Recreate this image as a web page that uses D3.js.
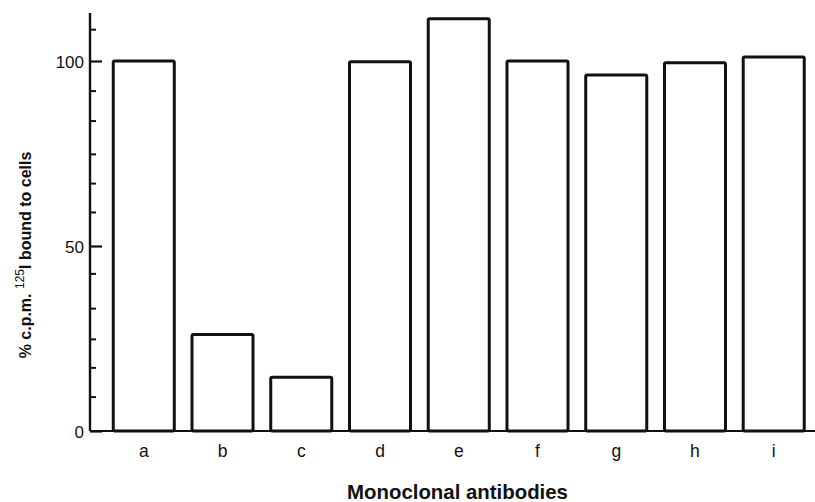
<!DOCTYPE html>
<html>
<head>
<meta charset="utf-8">
<script src="https://cdn.jsdelivr.net/npm/d3@7"></script>
<style>
  html, body { margin: 0; padding: 0; background: #fff; }
  svg { display: block; }
  text { font-family: "Liberation Sans", Arial, Helvetica, sans-serif; fill: #111; }
</style>
</head>
<body>
<svg id="chart" width="815" height="502"></svg>
<script>
// ---- data ----
const categories = ["a", "b", "c", "d", "e", "f", "g", "h", "i"];
const values = [100, 26.1, 14.5, 99.8, 111.4, 100, 96.2, 99.5, 101.1];
const majorTicks = [0, 50, 100];
const minorTicks = [9.3, 17.2, 24.9, 33.2, 42.6, 59.2, 67.0, 74.9, 83.9, 92.0, 108.6];
const yTitle = "% c.p.m.";
const yTitleSup = "125";
const yTitleRest = "I bound to cells";
const xTitle = "Monoclonal antibodies";

// ---- layout ----
const svg = d3.select("#chart");
const axisX = 90;
const y = d3.scaleLinear().domain([0, 113]).range([431, 12.9]);
const x = d3.scaleBand().domain(categories).range([104.4, 813.1])
  .paddingInner(0.225).paddingOuter(0.1125);

const ink = "#111";

// bars
svg.append("g").selectAll("rect").data(values).join("rect")
  .attr("x", (d, i) => x(categories[i]))
  .attr("y", d => y(d))
  .attr("width", x.bandwidth())
  .attr("height", d => y(0) - y(d))
  .attr("rx", 1.5)
  .attr("fill", "#fff")
  .attr("stroke", ink)
  .attr("stroke-width", 3);

// baseline
svg.append("line")
  .attr("x1", axisX).attr("x2", 815)
  .attr("y1", y(0)).attr("y2", y(0))
  .attr("stroke", ink).attr("stroke-width", 2.2);

// y axis line
svg.append("line")
  .attr("x1", axisX).attr("x2", axisX)
  .attr("y1", y(113)).attr("y2", y(0))
  .attr("stroke", ink).attr("stroke-width", 2.4);

// major ticks (inward) + labels
const yAxisMajor = d3.axisRight(y).tickValues(majorTicks).tickSize(12).tickFormat(d3.format("d"));
const gMaj = svg.append("g").attr("transform", `translate(${axisX},0)`).call(yAxisMajor);
gMaj.select(".domain").remove();
gMaj.selectAll(".tick line").attr("stroke", ink).attr("stroke-width", 2.2);
gMaj.selectAll(".tick text")
  .attr("x", -6).attr("text-anchor", "end")
  .attr("dy", "0.36em")
  .style("font-size", "17px")
  .style("font-family", "'Liberation Sans', Arial, sans-serif")
  .attr("fill", ink);

// minor ticks
const yAxisMinor = d3.axisRight(y).tickValues(minorTicks).tickSize(6).tickFormat("");
const gMin = svg.append("g").attr("transform", `translate(${axisX},0)`).call(yAxisMinor);
gMin.select(".domain").remove();
gMin.selectAll(".tick line").attr("stroke", ink).attr("stroke-width", 2);

// category labels
const xAxis = d3.axisBottom(x).tickSize(0).tickPadding(0);
const gx = svg.append("g").attr("transform", `translate(0,${y(0)})`).call(xAxis);
gx.select(".domain").remove();
gx.selectAll(".tick text")
  .attr("y", 26).attr("dy", 0)
  .style("font-size", "17.5px")
  .style("font-family", "'Liberation Sans', Arial, sans-serif")
  .attr("fill", ink);

// x title
svg.append("text")
  .attr("x", 457.5).attr("y", 498.5)
  .attr("text-anchor", "middle")
  .style("font-size", "20.4px")
  .style("font-weight", "bold")
  .text(xTitle);

// y title
const yt = svg.append("text")
  .attr("transform", "translate(31,255) rotate(-90)")
  .attr("text-anchor", "middle")
  .style("font-size", "16px")
  .style("font-weight", "bold");
yt.append("tspan").text(yTitle + " ");
yt.append("tspan").attr("dy", -7).style("font-size", "12px").style("font-weight", "normal").text(yTitleSup);
yt.append("tspan").attr("dy", 7).text(yTitleRest);
</script>
</body>
</html>
